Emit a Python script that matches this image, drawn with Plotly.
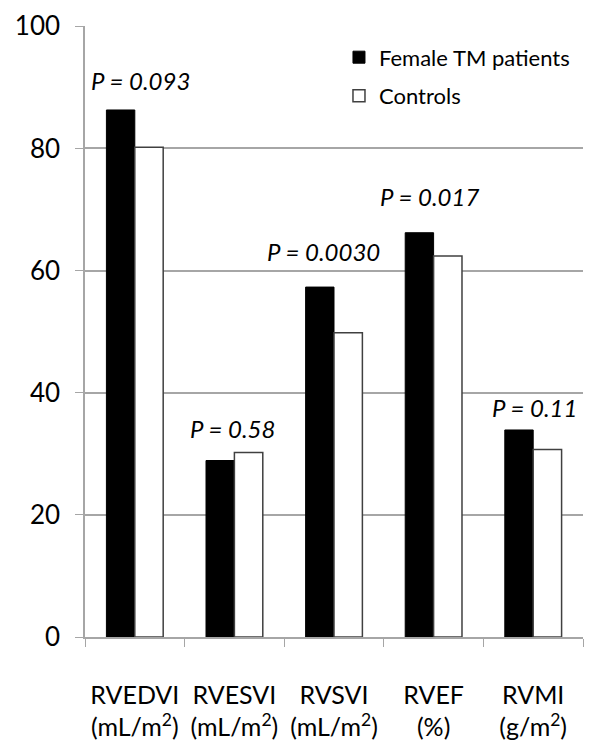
import plotly.graph_objects as go

# Values
categories = ["RVEDVI<br>(mL/m<sup>2</sup>)", "RVESVI<br>(mL/m<sup>2</sup>)",
              "RVSVI<br>(mL/m<sup>2</sup>)", "RVEF<br>(%)", "RVMI<br>(g/m<sup>2</sup>)"]
patients = [86.3, 28.9, 57.3, 66.2, 33.9]
controls = [80.2, 30.2, 49.8, 62.4, 30.7]
p_labels = ["P = 0.093", "P = 0.58", "P = 0.0030", "P = 0.017", "P = 0.11"]
p_y = [91.2, 34.2, 63.2, 72.1, 37.6]
p_shift = [6, -2, -11, -4, 1]
y_ticks = [0, 20, 40, 60, 80, 100]

FONT = "Lato, 'Noto Sans', sans-serif"
GRID = "#a6a6a6"

fig = go.Figure()
fig.add_trace(go.Bar(x=categories, y=patients, name="Female TM patients",
                     marker=dict(color="black", line=dict(color="black", width=1)),
                     legendgroup="a"))
fig.add_trace(go.Bar(x=categories, y=controls, name="Controls",
                     marker=dict(color="white", line=dict(color="#404040", width=1.5)),
                     legendgroup="b"))

for cat, txt, yy, sh in zip(categories, p_labels, p_y, p_shift):
    fig.add_annotation(x=cat, y=yy, text=f"<i>{txt}</i>", showarrow=False,
                       xshift=sh, font=dict(family=FONT, size=24, color="black"))

# page body adds ~8px offset, margins compensate
fig.update_layout(
    width=600, height=754,
    margin=dict(l=77, r=25, t=18, b=125),
    plot_bgcolor="white", paper_bgcolor="white",
    barmode="group", bargap=0.43, bargroupgap=0,
    font=dict(family=FONT, color="black"),
    legend=dict(x=0.51, y=0.983, xanchor="left", yanchor="top",
                font=dict(family=FONT, size=22, color="black"),
                tracegroupgap=7, bgcolor="rgba(0,0,0,0)",
                itemwidth=30),
    xaxis=dict(showline=True, linecolor=GRID, linewidth=1.5, automargin=False,
               ticks="outside", tickson="boundaries", ticklen=8, tickcolor=GRID,
               tickfont=dict(family=FONT, size=25, color="black"),
               ticklabelstandoff=35),
    yaxis=dict(range=[0, 100.05], tickmode="array", tickvals=y_ticks,
               showline=True, linecolor=GRID, linewidth=1.5,
               showgrid=True, gridcolor=GRID, gridwidth=1.5, automargin=False,
               ticks="outside", ticklen=8, tickcolor=GRID,
               tickfont=dict(family=FONT, size=26, color="black"),
               ticklabeloverflow="allow",
               ticklabelstandoff=10, zeroline=False),
)

fig.write_html("out.html")
